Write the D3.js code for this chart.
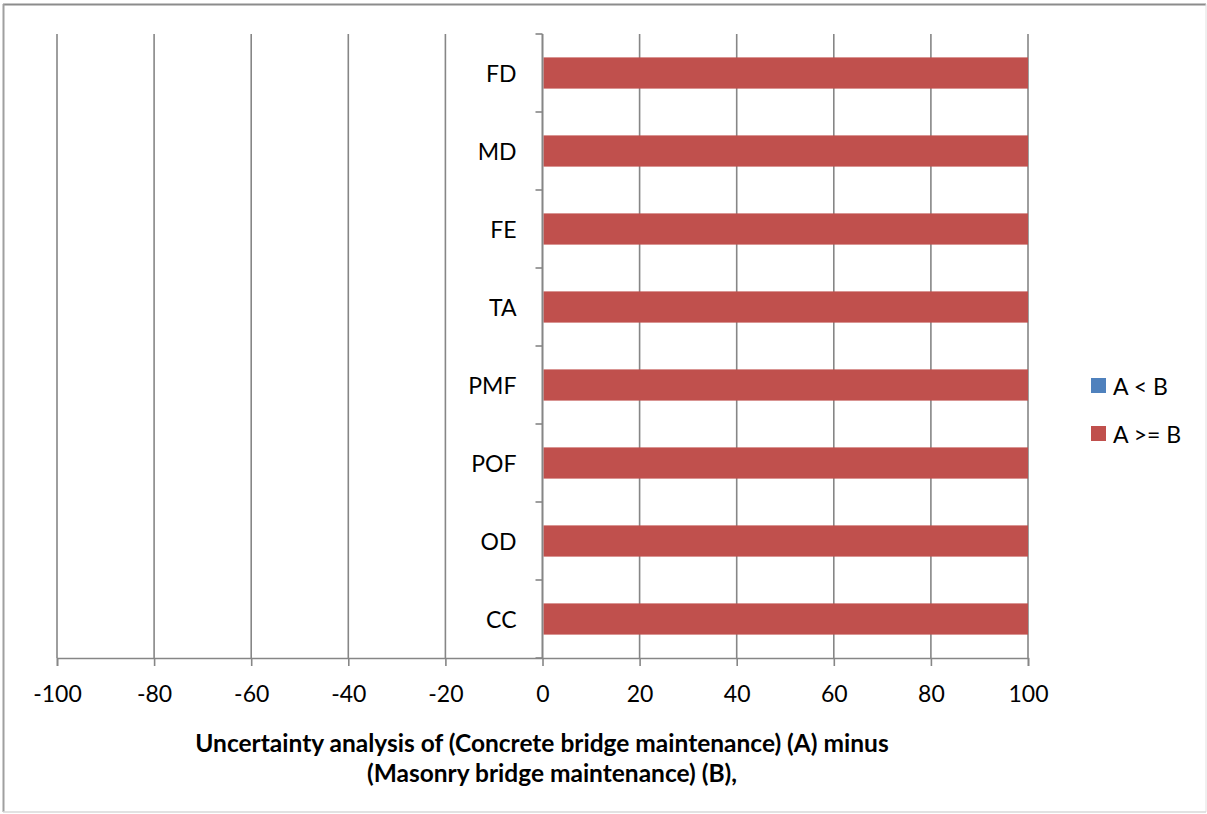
<!DOCTYPE html>
<html>
<head>
<meta charset="utf-8">
<script src="https://cdn.jsdelivr.net/npm/d3@7"></script>
<style>
  html, body { margin: 0; padding: 0; background: #fff; }
  svg { display: block; }
  text { font-family: Lato, "Open Sans", sans-serif; fill: #000; }
</style>
</head>
<body>
<svg id="chart" width="1207" height="814"></svg>
<script>
// Categories listed bottom to top
const categories = ["CC", "OD", "POF", "PMF", "TA", "FE", "MD", "FD"];
// Percentage of outcomes where A < B and where A >= B
const lessValues = [0, 0, 0, 0, 0, 0, 0, 0];
const geqValues = [100, 100, 100, 100, 100, 100, 100, 100];
const xTicks = [-100, -80, -60, -40, -20, 0, 20, 40, 60, 80, 100];
const seriesNames = ["A < B", "A >= B"];
const seriesColors = ["#4F81BD", "#C0504D"];
const titleLines = [
  "Uncertainty analysis of (Concrete bridge maintenance) (A) minus",
  "(Masonry bridge maintenance) (B),"
];

const svg = d3.select("#chart");
const plot = { left: 57, right: 1028, top: 34, bottom: 658 };
const gridColor = "#868686";
const labelSize = 23;

// outer frame
svg.append("line").attr("x1", 3).attr("x2", 1206).attr("y1", 4.5).attr("y2", 4.5)
  .attr("stroke", "#8c8c8c").attr("stroke-width", 2);
svg.append("line").attr("x1", 3.5).attr("x2", 3.5).attr("y1", 4).attr("y2", 812)
  .attr("stroke", "#a0a0a0").attr("stroke-width", 2);
svg.append("line").attr("x1", 1206).attr("x2", 1206).attr("y1", 4).attr("y2", 812)
  .attr("stroke", "#e0e0e0").attr("stroke-width", 1);
svg.append("line").attr("x1", 3).attr("x2", 1206).attr("y1", 812).attr("y2", 812)
  .attr("stroke", "#d8d8d8").attr("stroke-width", 1.5);

const x = d3.scaleLinear().domain([-100, 100]).range([plot.left, plot.right]);
const y = d3.scaleBand().domain(categories.slice().reverse())
  .range([plot.top, plot.bottom]).paddingInner(0.6).paddingOuter(0.3);
const yEdges = d3.scaleBand().domain(categories.slice().reverse())
  .range([plot.top, plot.bottom]).padding(0);

// vertical gridlines
svg.append("g").selectAll("line").data(xTicks).join("line")
  .attr("x1", d => x(d)).attr("x2", d => x(d))
  .attr("y1", plot.top).attr("y2", plot.bottom)
  .attr("stroke", gridColor).attr("stroke-width", 1.6);

// bars: A < B drawn first, A >= B stacked after it
const stacks = categories.map((c, i) => ({ cat: c, less: lessValues[i], geq: geqValues[i] }));
svg.append("g").selectAll("rect").data(stacks).join("rect")
  .attr("x", d => x(0)).attr("y", d => y(d.cat))
  .attr("width", d => x(d.less) - x(0)).attr("height", y.bandwidth())
  .attr("fill", seriesColors[0]);
svg.append("g").selectAll("rect").data(stacks).join("rect")
  .attr("x", d => x(d.less) + 1).attr("y", d => y(d.cat))
  .attr("width", d => x(d.less + d.geq) - x(d.less) - 1).attr("height", y.bandwidth())
  .attr("fill", seriesColors[1]);

// x axis
const xAxis = svg.append("g").attr("transform", `translate(0,${plot.bottom})`)
  .call(d3.axisBottom(x).tickValues(xTicks).tickSize(8).tickPadding(20).tickFormat(d => String(d)));
xAxis.select(".domain").attr("stroke", gridColor).attr("stroke-width", 1.6);
xAxis.selectAll(".tick line").attr("stroke", gridColor).attr("stroke-width", 1.6);
xAxis.selectAll(".tick text").attr("font-size", labelSize)
  .attr("font-family", "Lato, sans-serif").attr("fill", "#000");

// y axis at zero with category boundary ticks
const yAxisG = svg.append("g").attr("transform", `translate(${x(0)},0)`);
yAxisG.append("line").attr("y1", plot.top).attr("y2", plot.bottom)
  .attr("stroke", gridColor).attr("stroke-width", 1.6);
const edges = yEdges.domain().map(c => yEdges(c)).concat([plot.bottom]);
yAxisG.selectAll("line.tk").data(edges).join("line").attr("class", "tk")
  .attr("x1", -7).attr("x2", 0).attr("y1", d => d).attr("y2", d => d)
  .attr("stroke", gridColor).attr("stroke-width", 1.6);
yAxisG.selectAll("text").data(categories).join("text")
  .attr("x", -26).attr("y", d => yEdges(d) + yEdges.bandwidth() / 2)
  .attr("text-anchor", "end").attr("dominant-baseline", "central")
  .attr("font-size", labelSize).text(d => d);

// axis title
svg.append("g").selectAll("text").data(titleLines).join("text")
  .attr("x", (d, i) => i === 0 ? 542 : 552)
  .attr("y", (d, i) => 752 + i * 30)
  .attr("text-anchor", "middle").attr("font-weight", "bold").attr("font-size", 24.5)
  .text(d => d);

// legend
const legend = svg.append("g").attr("transform", "translate(1091,378)");
const li = legend.selectAll("g").data(seriesNames).join("g")
  .attr("transform", (d, i) => `translate(0,${i * 48})`);
li.append("rect").attr("width", 15).attr("height", 15).attr("fill", (d, i) => seriesColors[i]);
li.append("text").attr("x", 22).attr("y", 8).attr("dominant-baseline", "central")
  .attr("font-size", labelSize).text(d => d);
</script>
</body>
</html>
